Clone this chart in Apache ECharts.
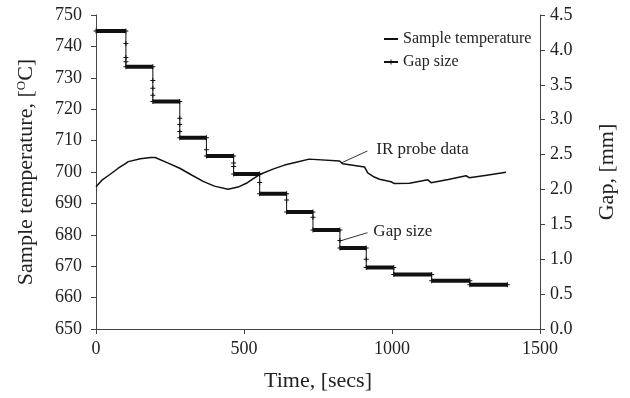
<!DOCTYPE html>
<html>
<head>
<meta charset="utf-8">
<script src="https://cdn.jsdelivr.net/npm/echarts@6/dist/echarts.min.js"></script>
<style>html,body{margin:0;padding:0;background:#fff}#c{width:630px;height:398px}</style>
</head>
<body>
<div id="c"></div>
<script>
// ---- data ----
// IR probe (sample temperature) trace: time [s] and temperature [°C]
var tempTimes = [0,20,47,75,98,109,150,185,190,200,240,283,320,362,400,446,480,508,530,553,600,637,680,720,724,823,834,907,918,940,958,997,1008,1059,1121,1132,1190,1250,1261,1320,1385];
var tempValues = [695.3,697.4,699.2,701.2,702.6,703.3,704.2,704.6,705.0,704.6,703.0,701.2,699.2,697.0,695.5,694.5,695.2,696.4,697.8,699.2,701.0,702.2,703.2,704.1,703.5,703.5,702.6,701.6,699.7,698.4,697.7,696.9,696.3,696.4,697.5,696.6,697.6,698.8,698.2,699.0,699.9];
// Gap size steps: boundaries [s] and level of each step [mm]
var gapBounds = [0,101,192,283,373,465,553,644,733,824,913,1006,1134,1263,1390];
var gapLevels = [4.27,3.76,3.26,2.74,2.48,2.22,1.94,1.675,1.42,1.16,0.88,0.78,0.69,0.635];
// intermediate readings during each drop (index of step before the drop -> values)
var gapDropValues = [[4.09,3.89,3.83],[3.56,3.45,3.35],[3.02,2.93,2.83],[2.57],[2.38,2.33],[2.10],[1.85],[1.60],[1.27],[1.0],[],[],[]];
// axis ticks
var xTicks = {min:0, max:1500, interval:500};
var tTicks = {min:650, max:750, interval:10};
var gTicks = {min:0, max:4.5, interval:0.5};

var serif = '"Liberation Serif","Times New Roman",serif';
var ink = '#222';

var tempData = tempTimes.map(function(t,i){return [t,tempValues[i]];});
var gapThin = [], gapThick = [];
for (var i=0;i<gapLevels.length;i++){
  gapThin.push([gapBounds[i],gapLevels[i]]);
  gapThin.push([gapBounds[i+1],gapLevels[i]]);
  (gapDropValues[i]||[]).forEach(function(v){gapThin.push([gapBounds[i+1],v]);});
  gapThick.push([gapBounds[i],gapLevels[i]]);
  gapThick.push([gapBounds[i+1],gapLevels[i]]);
  gapThick.push([gapBounds[i+1],'-']);
}
var plus = 'path://M4,0H6V4H10V6H6V10H4V6H0V4H4Z';

var chart = echarts.init(document.getElementById('c'));
var axisLine = {show:true, lineStyle:{color:'#444', width:1}};
var axisTick = {show:true, inside:false, length:5, lineStyle:{color:'#444'}};
chart.setOption({
  animation:false,
  backgroundColor:'#fff',
  grid:{left:96, right:90, top:15, bottom:69, containLabel:false},
  legend:{
    orient:'vertical', left:378, top:26, itemWidth:14, itemHeight:6, itemGap:7,
    textStyle:{fontFamily:serif, fontSize:16, color:ink},
    data:[{name:'Sample temperature', lineStyle:{width:2}},{name:'Gap size'}]
  },
  xAxis:{
    type:'value', min:xTicks.min, max:xTicks.max, interval:xTicks.interval,
    axisLine:axisLine, axisTick:axisTick, splitLine:{show:false},
    axisLabel:{fontFamily:serif, fontSize:18, color:ink, margin:11, formatter:function(v){return String(v);}},
    name:'Time, [secs]', nameLocation:'middle', nameGap:41,
    nameTextStyle:{fontFamily:serif, fontSize:22, color:ink}
  },
  yAxis:[{
    type:'value', min:tTicks.min, max:tTicks.max, interval:tTicks.interval,
    axisLine:axisLine, axisTick:axisTick, splitLine:{show:false},
    axisLabel:{fontFamily:serif, fontSize:18, color:ink, margin:14},
    name:'Sample temperature, [{s|O}C]', nameLocation:'middle', nameGap:59, nameRotate:90,
    nameTextStyle:{fontFamily:serif, fontSize:22, color:ink,
      rich:{s:{fontFamily:serif, fontSize:13, color:ink, verticalAlign:'top', padding:[0,0,8,0]}}}
  },{
    type:'value', position:'right', min:gTicks.min, max:gTicks.max, interval:gTicks.interval,
    axisLine:axisLine, axisTick:axisTick, splitLine:{show:false},
    axisLabel:{fontFamily:serif, fontSize:18, color:ink, margin:10, formatter:function(v){return v.toFixed(1);}},
    name:'Gap, [mm]', nameLocation:'middle', nameGap:56, nameRotate:90,
    nameTextStyle:{fontFamily:serif, fontSize:22, color:ink}
  }],
  series:[{
    name:'Sample temperature', type:'line', yAxisIndex:0, data:tempData,
    symbol:'circle', showSymbol:false, lineStyle:{color:'#111', width:1.5}, itemStyle:{color:'rgba(0,0,0,0)'}
  },{
    name:'Gap size', type:'line', yAxisIndex:1, data:gapThin,
    symbol:plus, symbolSize:5, showSymbol:true,
    lineStyle:{color:'#111', width:1}, itemStyle:{color:'#111'}
  },{
    name:'Gap size', type:'line', yAxisIndex:1, data:gapThick, connectNulls:false,
    symbol:'none', lineStyle:{color:'#111', width:4}, itemStyle:{color:'#111'}
  }]
});

// annotations anchored in data coordinates
function px(t,v,ax){return chart.convertToPixel({xAxisIndex:0,yAxisIndex:ax},[t,v]);}
var irTip = px(829,702.9,0), irEnd = px(917,706.7,0), irTxt = px(947,707,0);
var gTip = px(823,1.26,1), gEnd = px(917,1.38,1), gTxt = px(937,1.40,1);
chart.setOption({graphic:[
  {type:'line', shape:{x1:irTip[0],y1:irTip[1],x2:irEnd[0],y2:irEnd[1]}, style:{stroke:'#333',lineWidth:1}},
  {type:'text', x:irTxt[0], y:irTxt[1], style:{text:'IR probe data', font:'17px '+serif, fill:ink, textVerticalAlign:'middle'}},
  {type:'line', shape:{x1:gTip[0],y1:gTip[1],x2:gEnd[0],y2:gEnd[1]}, style:{stroke:'#333',lineWidth:1}},
  {type:'text', x:gTxt[0], y:gTxt[1], style:{text:'Gap size', font:'17px '+serif, fill:ink, textVerticalAlign:'middle'}}
]});
</script>
</body>
</html>
